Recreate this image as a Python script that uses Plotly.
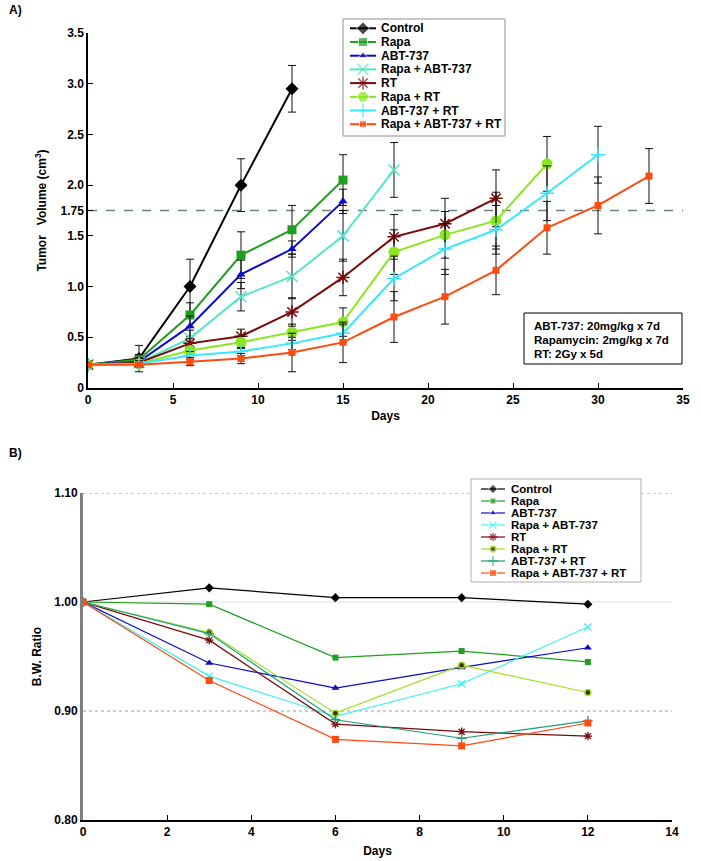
import plotly.graph_objects as go

# ---------------- Panel A data ----------------
days_a = [0, 3, 6, 9, 12, 15, 18, 21, 24, 27, 30, 33]
series_a = ["Control", "Rapa", "ABT-737", "Rapa + ABT-737", "RT",
            "Rapa + RT", "ABT-737 + RT", "Rapa + ABT-737 + RT"]
control_a = [0.23, 0.29, 1.00, 2.00, 2.95]
control_a_err = [0.01, 0.13, 0.27, 0.26, 0.23]
rapa_a = [0.23, 0.28, 0.72, 1.31, 1.56, 2.05]
rapa_a_err = [0.01, 0.05, 0.12, 0.23, 0.24, 0.25]
abt_a = [0.23, 0.26, 0.61, 1.12, 1.37, 1.84]
abt_a_err = [0.01, 0.04, 0.10, 0.14, 0.08, 0.12]
rapa_abt_a = [0.23, 0.25, 0.49, 0.90, 1.10, 1.50, 2.15]
rapa_abt_a_err = [0.01, 0.04, 0.08, 0.14, 0.22, 0.25, 0.27]
rt_a = [0.23, 0.25, 0.44, 0.51, 0.75, 1.09, 1.49, 1.62, 1.87]
rt_a_err = [0.01, 0.04, 0.05, 0.07, 0.14, 0.18, 0.22, 0.25, 0.28]
rapa_rt_a = [0.23, 0.24, 0.37, 0.45, 0.55, 0.65, 1.34, 1.51, 1.65, 2.21]
rapa_rt_a_err = [0.01, 0.03, 0.04, 0.06, 0.08, 0.14, 0.22, 0.23, 0.28, 0.27]
abt_rt_a = [0.23, 0.24, 0.32, 0.36, 0.44, 0.54, 1.08, 1.37, 1.56, 1.92, 2.30]
abt_rt_a_err = [0.01, 0.03, 0.04, 0.04, 0.06, 0.09, 0.22, 0.25, 0.24, 0.27, 0.28]
triple_a = [0.23, 0.23, 0.26, 0.29, 0.35, 0.45, 0.70, 0.90, 1.16, 1.58, 1.80, 2.09]
triple_a_err = [0.01, 0.02, 0.04, 0.05, 0.19, 0.20, 0.25, 0.27, 0.24, 0.26, 0.28, 0.27]

ytick_a_vals = [0, 0.5, 1.0, 1.5, 1.75, 2.0, 2.5, 3.0, 3.5]
ytick_a_text = ["0", "0.5", "1.0", "1.5", "1.75", "2.0", "2.5", "3.0", "3.5"]
threshold_a = 1.75
dose_lines = ["ABT-737: 20mg/kg x 7d", "Rapamycin: 2mg/kg x 7d", "RT: 2Gy x 5d"]

# ---------------- Panel B data ----------------
days_b = [0, 3, 6, 9, 12]
control_b = [1.000, 1.013, 1.004, 1.004, 0.998]
rapa_b = [1.000, 0.998, 0.949, 0.955, 0.945]
abt_b = [1.000, 0.944, 0.921, 0.940, 0.958]
rapa_abt_b = [1.000, 0.932, 0.895, 0.925, 0.977]
rt_b = [1.000, 0.965, 0.888, 0.881, 0.877]
rapa_rt_b = [1.000, 0.972, 0.898, 0.942, 0.917]
abt_rt_b = [1.000, 0.971, 0.892, 0.875, 0.891]
triple_b = [1.000, 0.928, 0.874, 0.868, 0.889]
ytick_b_vals = [0.80, 0.90, 1.00, 1.10]
ytick_b_text = ["0.80", "0.90", "1.00", "1.10"]

FONT = "Liberation Sans, Arial, sans-serif"
W, H = 701, 861

fig = go.Figure()

# style: colour, symbol, size, open-symbol line width
styles_a = [
    ("#000000", "diamond", 10, 0),
    ("#1f9e1f", "square", 9, 0),
    ("#0a0ac8", "triangle-up", 8, 0),
    ("#50e8c8", "x-thin-open", 11, 1.5),
    ("#7a0a0a", "asterisk-open", 11, 1.5),
    ("#8ae61e", "circle", 11, 0),
    ("#38e6ff", "cross-thin-open", 10, 1.5),
    ("#ff4a10", "square", 7, 0),
]
vals_a = [control_a, rapa_a, abt_a, rapa_abt_a, rt_a, rapa_rt_a, abt_rt_a, triple_a]
errs_a = [control_a_err, rapa_a_err, abt_a_err, rapa_abt_a_err, rt_a_err,
          rapa_rt_a_err, abt_rt_a_err, triple_a_err]


def marker_a(col, sym, sz, lw):
    mk = dict(color=col, symbol=sym, size=sz)
    if lw:
        mk["line"] = dict(color=col, width=lw)
    return mk


for name, v, e, (col, sym, sz, lw) in zip(series_a, vals_a, errs_a, styles_a):
    fig.add_trace(go.Scatter(
        x=days_a[:len(v)], y=v, name=name, mode="lines+markers",
        line=dict(color=col, width=2), marker=marker_a(col, sym, sz, lw),
        error_y=dict(type="data", array=e, visible=True, color="#111111",
                     thickness=1, width=4),
        xaxis="x", yaxis="y", showlegend=False))

styles_b = [
    ("#000000", "diamond", 7, None),
    ("#1f9e1f", "square", 6, None),
    ("#0a0ac8", "triangle-up", 7, None),
    ("#40f0f0", "x-thin-open", 7, "#40f0f0"),
    ("#7a0a0a", "asterisk-open", 7, "#7a0a0a"),
    ("#a0e020", "circle", 6, None),
    ("#1aa078", "cross-thin-open", 7, "#1aa078"),
    ("#ff4a10", "square", 7, None),
]
vals_b = [control_b, rapa_b, abt_b, rapa_abt_b, rt_b, rapa_rt_b, abt_rt_b, triple_b]


def marker_b(name, col, sym, sz, lc):
    if name == "Rapa + RT":
        return dict(color="#3a2a00", symbol=sym, size=sz, line=dict(color=col, width=1.5))
    if lc:
        return dict(color=col, symbol=sym, size=sz, line=dict(color=lc, width=1.3))
    return dict(color=col, symbol=sym, size=sz)


for name, v, (col, sym, sz, lc) in zip(series_a, vals_b, styles_b):
    fig.add_trace(go.Scatter(
        x=days_b, y=v, name=name, mode="lines+markers",
        line=dict(color=col, width=1.2), marker=marker_b(name, col, sym, sz, lc),
        xaxis="x2", yaxis="y2", showlegend=False))

# threshold line panel A
fig.add_shape(type="line", xref="x", yref="y", x0=0, x1=35, y0=threshold_a, y1=threshold_a,
              line=dict(color="#708080", width=1.5, dash="dash"), layer="below")
# grid lines panel B
for gv, dash, col in [(1.10, "dot", "#9aa0a0"), (0.90, "dot", "#9aa0a0"), (1.00, "solid", "#dcdcdc")]:
    fig.add_shape(type="line", xref="x2", yref="y2", x0=0, x1=14, y0=gv, y1=gv,
                  line=dict(color=col, width=1, dash=dash), layer="below")

# ---------------- hand-built legends (pixel overlay axes x3/y3) ----------------


def build_legend(box, row0, dy, lx0, lx1, tx, lwidth, border, fsize, markers):
    x0, y0, x1, y1 = box
    fig.add_trace(go.Scatter(x=[x0, x1, x1, x0, x0], y=[y0, y0, y1, y1, y0], mode="lines",
                             fill="toself", fillcolor="white",
                             line=dict(color=border, width=1),
                             xaxis="x3", yaxis="y3", showlegend=False, hoverinfo="skip"))
    for i, (name, col, mk) in enumerate(markers):
        ry = row0 + i * dy
        sz = mk["size"]
        mk = dict(mk)
        mk["size"] = [0, sz, 0]
        fig.add_trace(go.Scatter(x=[lx0, (lx0 + lx1) / 2, lx1], y=[ry, ry, ry],
                                 mode="lines+markers", line=dict(color=col, width=lwidth),
                                 marker=mk, xaxis="x3", yaxis="y3",
                                 showlegend=False, hoverinfo="skip"))
        fig.add_annotation(text="<b>" + name + "</b>", x=tx, y=ry, xref="x3", yref="y3",
                           xanchor="left", yanchor="middle", showarrow=False,
                           font=dict(family=FONT, size=fsize, color="#000"))


build_legend((343, 19, 505, 136), 28.3, 13.7, 350, 376, 379, 2, "#909090", 12,
             [(n, s[0], marker_a(*s)) for n, s in zip(series_a, styles_a)])
build_legend((471, 479, 641, 582), 489, 12, 481, 505, 509, 1.2, "#b0b0b0", 11.5,
             [(n, s[0], marker_b(n, *s)) for n, s in zip(series_a, styles_b)])

tickfont = dict(family=FONT, size=12, color="#000", weight="bold")
titlefont = dict(family=FONT, size=12, color="#000", weight="bold")

fig.update_layout(
    width=W, height=H, margin=dict(l=0, r=0, t=0, b=0, autoexpand=False),
    paper_bgcolor="white", plot_bgcolor="rgba(0,0,0,0)", font=dict(family=FONT),
    showlegend=False, hovermode="closest",
    xaxis=dict(domain=[88 / W, 683 / W], anchor="y", range=[0, 35], tickvals=list(range(0, 36, 5)),
               showgrid=False, zeroline=False, showline=True, linecolor="#000", linewidth=1.5,
               ticks="inside", ticklen=5, tickcolor="#000", tickfont=tickfont,
               title=dict(text="Days", font=titlefont, standoff=5)),
    yaxis=dict(domain=[1 - 388 / H, 1 - 33 / H], anchor="x", range=[0, 3.5], tickvals=ytick_a_vals,
               ticktext=ytick_a_text, showgrid=False, zeroline=False, showline=True,
               linecolor="#000", linewidth=1.5, ticks="inside", ticklen=5, tickcolor="#000",
               tickfont=tickfont,
               title=dict(text="Tumor   Volume (cm<sup>3</sup>)", font=titlefont, standoff=11)),
    xaxis2=dict(domain=[83 / W, 672 / W], anchor="y2", range=[0, 14], tickvals=list(range(0, 15, 2)),
                showgrid=False, zeroline=False, showline=True, linecolor="#000", linewidth=1.5,
                ticks="inside", ticklen=5, tickcolor="#000", tickfont=tickfont,
                title=dict(text="Days", font=titlefont, standoff=8)),
    yaxis2=dict(domain=[1 - 820 / H, 1 - 493 / H], anchor="x2", range=[0.8, 1.1], tickvals=ytick_b_vals,
                ticktext=ytick_b_text, showgrid=False, zeroline=False, showline=True,
                linecolor="#808080", linewidth=3, ticks="", tickfont=tickfont,
                title=dict(text="B.W. Ratio", font=titlefont, standoff=11)),
    xaxis3=dict(domain=[0, 1], anchor="y3", range=[0, W], visible=False, fixedrange=True),
    yaxis3=dict(domain=[0, 1], anchor="x3", range=[H, 0], visible=False, fixedrange=True),
)

fig.add_annotation(text="<b>A)</b>", xref="x3", yref="y3", x=7, y=10,
                   xanchor="left", yanchor="middle", showarrow=False,
                   font=dict(family=FONT, size=12, color="#000"))
fig.add_annotation(text="<b>B)</b>", xref="x3", yref="y3", x=7, y=453,
                   xanchor="left", yanchor="middle", showarrow=False,
                   font=dict(family=FONT, size=12, color="#000"))

# dose box
fig.add_shape(type="rect", xref="x3", yref="y3", x0=524, x1=682, y0=313, y1=364,
              line=dict(color="#000", width=1), fillcolor="white", layer="below")
for i, t in enumerate(dose_lines):
    fig.add_annotation(text="<b>" + t + "</b>", xref="x3", yref="y3", x=532, y=326 + i * 14,
                       xanchor="left", yanchor="middle", showarrow=False,
                       font=dict(family=FONT, size=11.5, color="#000"))

fig.write_html("out.html", config={"displayModeBar": False},
               post_script="document.body.style.margin='0';")
